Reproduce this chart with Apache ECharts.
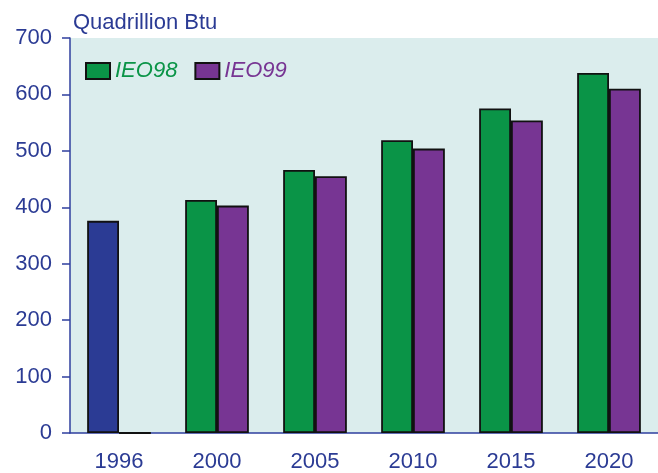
<!DOCTYPE html>
<html>
<head>
<meta charset="utf-8">
<style>
  html, body { margin: 0; padding: 0; background: #ffffff; }
  #chart { width: 658px; height: 473px; }
</style>
<script src="https://cdn.jsdelivr.net/npm/echarts@6/dist/echarts.min.js"></script>
</head>
<body>
<div id="chart"></div>
<script>
var years = ['1996', '2000', '2005', '2010', '2015', '2020'];
var ieo98 = [376, 413, 466, 519, 575, 638];
var ieo99 = [0, 403, 455, 504, 554, 610];
var yTicks = [0, 100, 200, 300, 400, 500, 600, 700];

var axisBlue = '#2f3f9e';
var textBlue = '#2b3b94';
var green = '#0a9447';
var purple = '#773593';
var history = '#263a96';

var chart = echarts.init(document.getElementById('chart'));

var option = {
    animation: false,
    textStyle: { fontFamily: 'Liberation Sans, Arial, sans-serif' },
    title: {
        text: 'Quadrillion Btu',
        left: 68,
        top: 7,
        textStyle: { color: textBlue, fontSize: 22, fontWeight: 'normal' }
    },
    legend: {
        left: 80,
        top: 55,
        itemWidth: 24,
        itemHeight: 16,
        itemGap: 17,
        icon: 'rect',
        data: [
            { name: 'IEO98', textStyle: { color: green } },
            { name: 'IEO99', textStyle: { color: purple } }
        ],
        textStyle: { fontSize: 22, fontStyle: 'italic' }
    },
    grid: {
        left: 70,
        top: 38,
        width: 590,
        height: 395,
        show: true,
        backgroundColor: '#dbeded',
        borderWidth: 0
    },
    xAxis: {
        type: 'category',
        data: years,
        axisLine: { lineStyle: { color: axisBlue, width: 1.5 } },
        axisTick: { alignWithLabel: true, length: 8, lineStyle: { color: axisBlue, width: 1.5 } },
        axisLabel: { color: textBlue, fontSize: 22, margin: 18 }
    },
    yAxis: {
        type: 'value',
        min: yTicks[0],
        max: yTicks[yTicks.length - 1],
        interval: 100,
        axisLine: { show: true, lineStyle: { color: axisBlue, width: 1.5 } },
        axisTick: { show: true, length: 8, lineStyle: { color: axisBlue, width: 1.5 } },
        axisLabel: { color: textBlue, fontSize: 22, margin: 18 },
        splitLine: { show: false }
    },
    series: [
        {
            name: 'IEO98',
            type: 'bar',
            barGap: '0%',
            barCategoryGap: '35%',
            itemStyle: { color: green, borderColor: '#111111', borderWidth: 1.8 },
            data: ieo98.map(function (v, i) {
                if (i === 0) {
                    return { value: v, itemStyle: { color: history } };
                }
                return v;
            })
        },
        {
            name: 'IEO99',
            type: 'bar',
            itemStyle: { color: purple, borderColor: '#111111', borderWidth: 1.8 },
            data: ieo99
        }
    ]
};

chart.setOption(option);
</script>
</body>
</html>
